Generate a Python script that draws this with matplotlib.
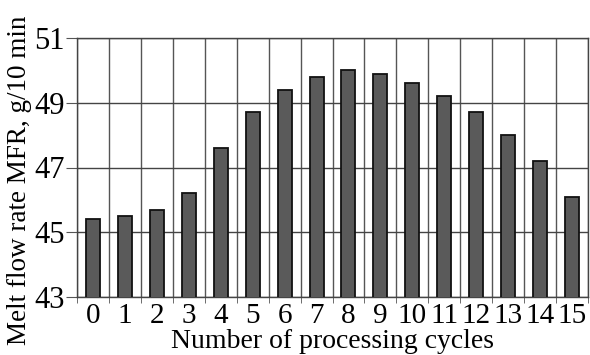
import numpy as np
import matplotlib
matplotlib.use('Agg')
import matplotlib.pyplot as plt

# Datos
ciclos = list(range(16))
mfr = [45.4, 45.5, 45.7, 46.2, 47.6, 48.7, 49.4, 49.8, 50.0, 49.9,
       49.6, 49.2, 48.7, 48.0, 47.2, 46.1]
y_ticks = [43, 45, 47, 49, 51]

plt.rcParams['font.family'] = ['Liberation Serif', 'DejaVu Serif']

fig = plt.figure(figsize=(5.9, 3.55), dpi=100)
ax = fig.add_axes([77 / 590, 1 - 297 / 355, 511 / 590, 259 / 355])

ax.bar(ciclos, mfr, width=0.44, bottom=0, color='#5a5a5a',
       edgecolor='#111111', linewidth=1.3, zorder=3)

ax.set_xlim(-0.5, 15.5)
ax.set_ylim(43, 51)
ax.set_yticks(y_ticks)
ax.set_xticks(ciclos)
ax.set_xticks(np.arange(-0.5, 16, 1), minor=True)
ax.tick_params(axis='x', which='major', length=0, labelsize=21, pad=4)
ax.tick_params(axis='x', which='minor', length=4, direction='out', color='#555555')
ax.tick_params(axis='y', length=8, direction='out', labelsize=22, pad=1, color='#555555')

ax.grid(axis='y', which='major', color='#444444', linewidth=1.0, zorder=0)
ax.grid(axis='x', which='minor', color='#555555', linewidth=1.0, zorder=0)
for s in ax.spines.values():
    s.set_color('#444444')
    s.set_linewidth(1.0)

ax.set_xlabel('Number of processing cycles', fontsize=20, labelpad=0)
ax.set_ylabel('Melt flow rate MFR, g/10 min', fontsize=19.5)
ax.yaxis.set_label_coords(-0.088, (297 - 180) / 259)

fig.savefig('out.png', dpi=100)
